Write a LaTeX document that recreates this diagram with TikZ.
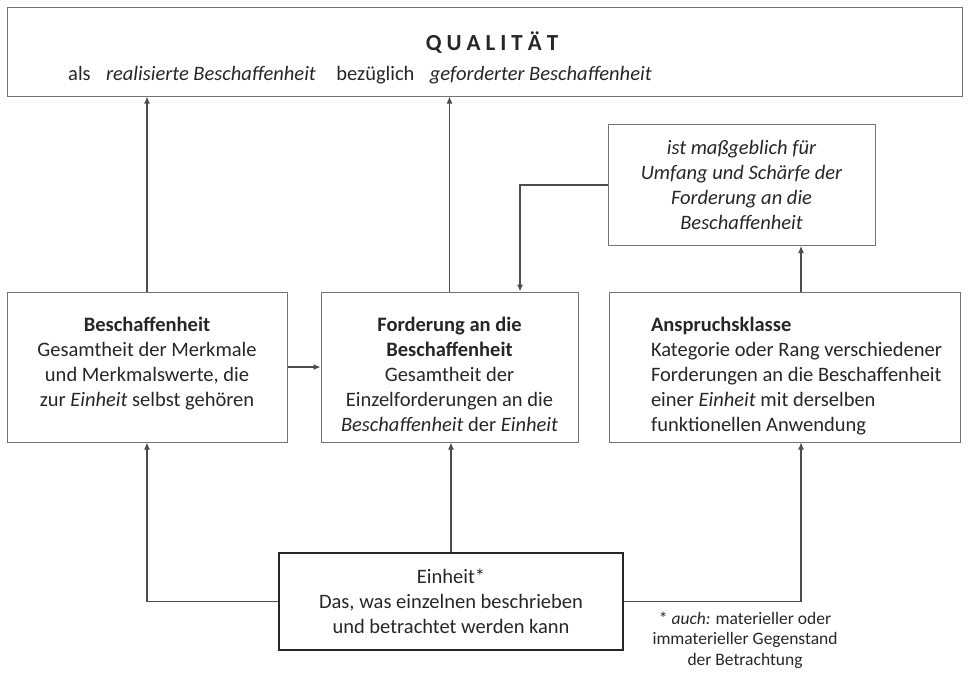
\documentclass[tikz,border=0pt]{standalone}
\usepackage{fontspec}
\setmainfont{Carlito}
\usetikzlibrary{arrows.meta}

\begin{document}
\begin{tikzpicture}[
    x=1pt, y=-1pt,
    kasten/.style={rectangle, draw=black!55, line width=1pt, text=black!85, font=\fontsize{20.5}{25}\selectfont, align=center, inner sep=0pt},
    reihe/.style={text height=39, text depth=111, align=flush center},
    pfeil/.style={-{Latex[length=7pt,width=6pt]}, draw=black!70, line width=1.1pt},
]
\useasboundingbox (0,0) rectangle (968,673);

% oben
\node[kasten, minimum width=955, minimum height=89] (qual) at (484.5,51.5) {};
\node[font=\fontsize{23}{28}\selectfont\bfseries, text=black!85] (titel) at (492,43) {Q\kern5pt U\kern5pt A\kern5pt L\kern5pt I\kern5pt T\kern5pt Ä\kern5pt T};
\node[anchor=west, inner sep=0pt, font=\fontsize{20.5}{25}\selectfont, text=black!85] (zusatz) at (68,75) {als\hspace{0.75em}\textit{realisierte Beschaffenheit}\hspace{1em}bezüglich\hspace{0.75em}\textit{geforderter Beschaffenheit}};

\node[kasten, font=\fontsize{20.5}{25}\selectfont\itshape, minimum width=267, minimum height=121] (mass) at (741.5,185) {ist maßgeblich für\\Umfang und Schärfe der\\Forderung an die\\Beschaffenheit};

% mittlere Reihe
\node[kasten, reihe, text width=280] (besch) at (147,367) {\textbf{Beschaffenheit}\\Gesamtheit der Merkmale\\und Merkmalswerte, die\\zur \textit{Einheit} selbst gehören};
\node[kasten, reihe, text width=257] (ford) at (449.5,367) {\textbf{Forderung an die}\\\textbf{Beschaffenheit}\\Gesamtheit der\\Einzelforderungen an die\\\textit{Beschaffenheit} der \textit{Einheit}};
\node[kasten, reihe, text width=351, align=flush left] (anspr) at (784.5,367) {\leftskip=42pt \textbf{Anspruchsklasse}\\Kategorie oder Rang verschiedener\\Forderungen an die Beschaffenheit\\einer \textit{Einheit} mit derselben\\funktionellen Anwendung\par};

% unten
\node[kasten, draw=black!85, line width=1.6pt, minimum width=344, minimum height=97] (einheit) at (451,601.5) {Einheit*\\Das, was einzelnen beschrieben\\und betrachtet werden kann};
\node[font=\fontsize{17.5}{20.5}\selectfont, text=black!85, align=center] (fuss) at (745,640) {* \textit{auch:} materieller oder\\immaterieller Gegenstand\\der Betrachtung};

\draw[pfeil] (besch.north) -- (besch.north |- qual.south);
\draw[pfeil] (ford.north) -- (ford.north |- qual.south);
\draw[pfeil] (besch.east) -- (ford.west);
\draw[pfeil] (mass.west) -| ([xshift=70.5]ford.north);
\draw[pfeil] ([xshift=16.5]anspr.north) -- ([xshift=16.5]anspr.north |- mass.south);
\draw[pfeil] (einheit.west) -| (besch.south);
\draw[pfeil] (einheit.north) -- (einheit.north |- ford.south);
\draw[pfeil] (einheit.east) -| ([xshift=16.5]anspr.south);
\end{tikzpicture}
\end{document}
